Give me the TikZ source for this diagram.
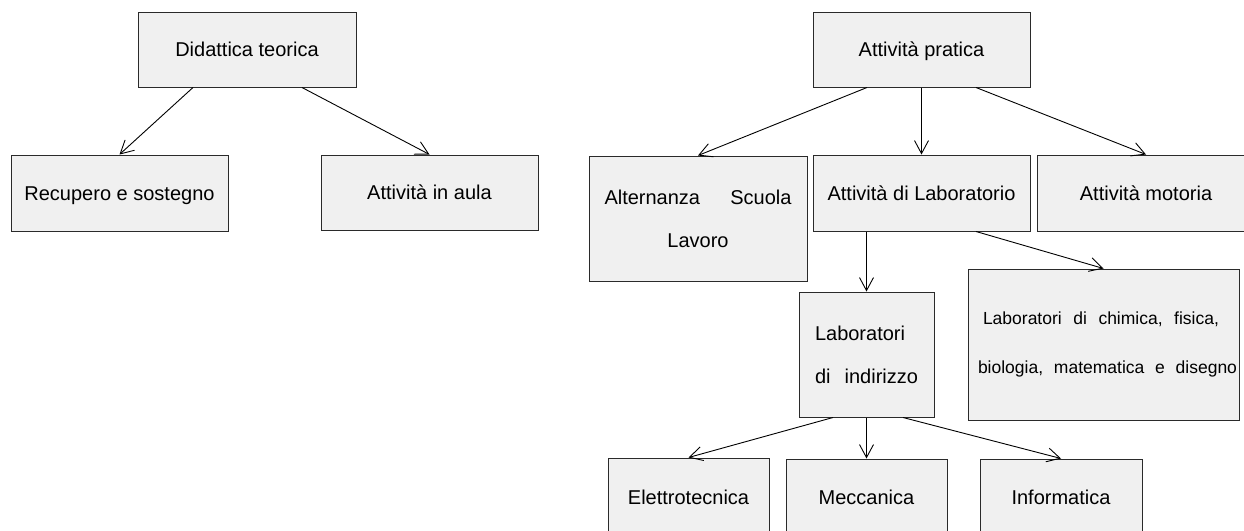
\documentclass[tikz,border=0pt]{standalone}
\usepackage{fontspec}
\setmainfont{Liberation Sans}
\usetikzlibrary{arrows.meta,calc}
\definecolor{boxfill}{HTML}{F0F0F0}
\definecolor{boxline}{HTML}{2A2A2A}
\tikzset{
  box/.style={draw=boxline, fill=boxfill, line width=1pt, inner sep=0pt,
    font=\fontsize{20}{43}\selectfont},
  oneline/.style={box, text height=14.4pt, text depth=0pt},
  conn/.style={draw=black, line width=0.9pt, -{Straight Barb[length=13pt,width=14pt]}}
}
\begin{document}
\begin{tikzpicture}[x=1pt,y=-1pt]
\useasboundingbox (0,0) rectangle (1244,530);
\clip (0,0) rectangle (1244,530);
\fill[white] (0,0) rectangle (1244,530);
% left tree
\node[oneline, minimum width=218pt, minimum height=75pt] (dt) at (247,49.5) {Didattica teorica};
\node[oneline, minimum width=217pt, minimum height=76pt] (rs) at (119.5,193) {Recupero e sostegno};
\node[oneline, minimum width=217pt, minimum height=75pt] (aa) at (429.5,192.5) {Attività in aula};
% right tree
\node[oneline, minimum width=217pt, minimum height=75pt] (ap) at (921.5,49.5) {Attività pratica};
\node[box, minimum width=218pt, minimum height=125pt, align=center] (asl) at (698,218.5)
  {\makebox[187pt][s]{Alternanza\hfill Scuola}\\Lavoro};
\node[oneline, minimum width=217pt, minimum height=76pt] (al) at (921.5,193) {Attività di Laboratorio};
\node[oneline, minimum width=217pt, minimum height=76pt] (am) at (1146,193) {Attività motoria};
\node[box, minimum width=135pt, minimum height=125pt, align=left] (li) at (866.5,354.5)
  {Laboratori\\\makebox[103pt][s]{di\hfill indirizzo}};
\node[box, minimum width=271pt, minimum height=151pt, align=left,
  font=\fontsize{17.5}{49}\selectfont] (lc) at (1103.5,344.5)
  {\hspace*{13pt}\makebox[236pt][s]{Laboratori\hfill di\hfill chimica,\hfill fisica,}\\
   \hspace*{8pt}\makebox[259pt][s]{biologia,\hfill matematica\hfill e\hfill disegno}};
\node[oneline, minimum width=161pt, minimum height=78pt] (el) at (688.5,497) {Elettrotecnica};
\node[oneline, minimum width=161pt, minimum height=77pt] (me) at (866.5,497.5) {Meccanica};
\node[oneline, minimum width=162pt, minimum height=77pt] (inf) at (1061,497.5) {Informatica};
% connectors
\draw[conn] ([xshift=-54pt]dt.south) -- (rs.north);
\draw[conn] ([xshift=55pt]dt.south) -- (aa.north);
\draw[conn] ([xshift=-54.5pt]ap.south) -- (asl.north);
\draw[conn] (ap.south) -- (al.north);
\draw[conn] ([xshift=54.5pt]ap.south) -- (am.north);
\draw[conn] (li.north |- al.south) -- (li.north);
\draw[conn] ([xshift=54.5pt]al.south) -- (lc.north);
\draw[conn] ([xshift=-33.5pt]li.south) -- (el.north);
\draw[conn] (li.south) -- (me.north);
\draw[conn] ([xshift=36.5pt]li.south) -- (inf.north);
\end{tikzpicture}
\end{document}
